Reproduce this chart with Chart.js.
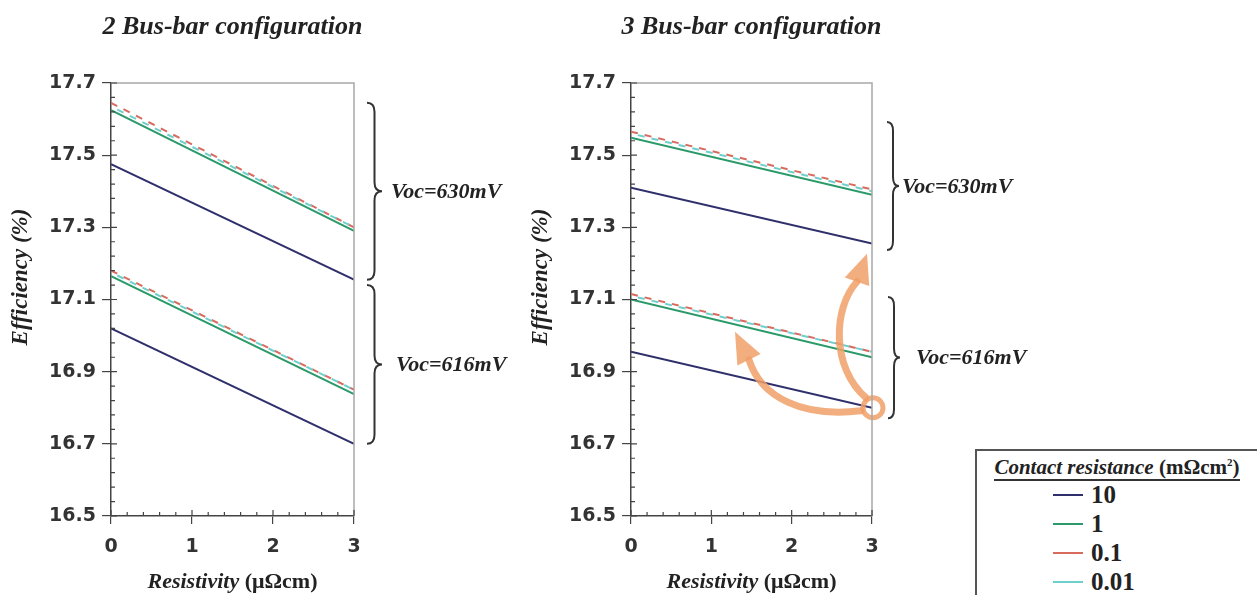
<!DOCTYPE html>
<html>
<head>
<meta charset="utf-8">
<script src="https://cdn.jsdelivr.net/npm/chart.js@4"></script>
<style>
  body { margin: 0; background: #fff; width: 1257px; height: 595px; position: relative; overflow: hidden; font-family: "Liberation Serif", serif; }
  canvas { position: absolute; top: 0; }
  #left { left: 0; }
  #right { left: 520px; }
  #legend { position: absolute; left: 975px; top: 449px; width: 290px; height: 150px; border: 2px solid #555; background: #fff; color: #222; z-index: 2; }
  .lt { text-align: center; font-weight: bold; font-size: 21px; line-height: 22px; width: 280px; white-space: nowrap; }
  .lt span { border-bottom: 2px solid #333; }
  #rows { margin-top: 2px; padding-left: 76px; }
  .row { height: 29px; display: flex; align-items: center; font-weight: bold; font-size: 25px; }
  .sw { width: 30px; height: 2px; margin-right: 8px; }
</style>
</head>
<body>
<canvas id="left" width="520" height="595"></canvas>
<canvas id="right" width="737" height="595"></canvas>
<div id="legend">
  <div class="lt"><span><i>Contact resistance</i> (mΩcm<sup style="font-size:11px">2</sup>)</span></div>
  <div id="rows"></div>
</div>
<script>
// donnees
const resistivity = [0, 3];
const xTicks = [0, 1, 2, 3];
const yTicks = [16.5, 16.7, 16.9, 17.1, 17.3, 17.5, 17.7];
const contactRes = ["10", "1", "0.1", "0.01"];

// 2 bus-bar (ordre : 10, 1, 0.1, 0.01)
const bb2Voc630 = [[17.475, 17.155], [17.625, 17.29], [17.645, 17.30], [17.635, 17.30]];
const bb2Voc616 = [[17.02, 16.70], [17.165, 16.838], [17.18, 16.85], [17.175, 16.85]];
// 3 bus-bar
const bb3Voc630 = [[17.41, 17.255], [17.548, 17.39], [17.565, 17.405], [17.56, 17.40]];
const bb3Voc616 = [[16.955, 16.80], [17.10, 16.94], [17.115, 16.955], [17.11, 16.955]];

const lineColors = ["#2f2f6b", "#2b9a6a", "#d96a5e", "#6dd0cc"];
const lineDash = [[], [], [7, 7], [7, 7]];
const dashOffset = [0, 0, 0, 7];

const serif = '"Liberation Serif", "Times New Roman", serif';
const sans = '"DejaVu Sans", Arial, sans-serif';

function buildDatasets(groups) {
  const ds = [];
  groups.forEach(g => {
    g.forEach((vals, i) => {
      ds.push({
        label: contactRes[i],
        data: resistivity.map((x, k) => ({ x: x, y: vals[k] })),
        borderColor: lineColors[i],
        borderDash: lineDash[i],
        borderDashOffset: dashOffset[i],
        borderWidth: 2,
        pointRadius: 0,
        tension: 0,
        order: 4 - i
      });
    });
  });
  return ds;
}

function drawBrace(ctx, x, y1, y2, w) {
  const m = (y1 + y2) / 2, h = w / 2, r = 9;
  ctx.beginPath();
  ctx.moveTo(x, y1);
  ctx.quadraticCurveTo(x + h, y1, x + h, y1 + r);
  ctx.lineTo(x + h, m - r);
  ctx.quadraticCurveTo(x + h, m, x + w, m);
  ctx.quadraticCurveTo(x + h, m, x + h, m + r);
  ctx.lineTo(x + h, y2 - r);
  ctx.quadraticCurveTo(x + h, y2, x, y2);
  ctx.stroke();
}

function drawArrow(ctx, c, pts, tip) {
  const [s, c1, c2, e] = pts.map(p => [c[0] + p[0], c[1] + p[1]]);
  const t = [c[0] + tip[0], c[1] + tip[1]];
  ctx.beginPath();
  ctx.moveTo(s[0], s[1]);
  ctx.bezierCurveTo(c1[0], c1[1], c2[0], c2[1], e[0], e[1]);
  ctx.stroke();
  // pointe
  const dx = t[0] - e[0], dy = t[1] - e[1];
  const len = Math.hypot(dx, dy);
  const px = -dy / len * 13, py = dx / len * 13;
  ctx.beginPath();
  ctx.moveTo(t[0], t[1]);
  ctx.lineTo(e[0] + px, e[1] + py);
  ctx.lineTo(e[0] - px, e[1] - py);
  ctx.closePath();
  ctx.fill();
}

function decorPlugin(title, braces, arrows) {
  return {
    id: "decor",
    afterDatasetsDraw(chart) {
      if (!arrows) return;
      const ctx = chart.ctx, xs = chart.scales.x, ys = chart.scales.y;
      const c = [xs.getPixelForValue(3) + 1, ys.getPixelForValue(16.8)];
      ctx.save();
      ctx.strokeStyle = "rgba(240,160,105,0.85)";
      ctx.fillStyle = "rgba(240,160,105,0.85)";
      ctx.lineWidth = 5;
      ctx.beginPath();
      ctx.arc(c[0], c[1], 10, 0, Math.PI * 2);
      ctx.stroke();
      ctx.lineWidth = 7;
      ctx.lineCap = "round";
      arrows.forEach(a => drawArrow(ctx, c, a.pts, a.tip));
      ctx.restore();
    },
    afterDraw(chart) {
      const ctx = chart.ctx, a = chart.chartArea, xs = chart.scales.x, ys = chart.scales.y;
      ctx.save();
      // cadre haut et droit
      ctx.strokeStyle = "#a8a8a8";
      ctx.lineWidth = 1.5;
      ctx.beginPath();
      ctx.moveTo(a.left, a.top);
      ctx.lineTo(a.right, a.top);
      ctx.lineTo(a.right, a.bottom);
      ctx.stroke();

      // petites graduations vers l'interieur
      ctx.strokeStyle = "#444";
      ctx.lineWidth = 1.2;
      ctx.beginPath();
      for (let k = 0; k <= 30; k++) {
        const p = ys.getPixelForValue(16.5 + k * 0.04);
        ctx.moveTo(a.left, p);
        ctx.lineTo(a.left + (k % 5 === 0 ? 6 : 4), p);
      }
      for (let k = 0; k <= 15; k++) {
        const p = xs.getPixelForValue(k * 0.2);
        ctx.moveTo(p, a.bottom);
        ctx.lineTo(p, a.bottom - (k % 5 === 0 ? 6 : 4));
      }
      ctx.stroke();

      ctx.fillStyle = "#222";
      ctx.textBaseline = "middle";
      // titre du panneau
      ctx.font = "italic bold 26px " + serif;
      ctx.textAlign = "center";
      ctx.fillText(title, (a.left + a.right) / 2, 27);

      // titre axe y
      ctx.save();
      ctx.translate(21, 277);
      ctx.rotate(-Math.PI / 2);
      ctx.font = "italic bold 23px " + serif;
      ctx.fillText("Efficiency (%)", 0, 0);
      ctx.restore();

      // titre axe x (italique + droit)
      const parts = [["italic bold 22px " + serif, "Resistivity"], ["bold 22px " + serif, " (μΩcm)"]];
      let total = 0;
      parts.forEach(p => { ctx.font = p[0]; total += ctx.measureText(p[1]).width; });
      let x = (a.left + a.right) / 2 - total / 2;
      ctx.textAlign = "left";
      parts.forEach(p => { ctx.font = p[0]; ctx.fillText(p[1], x, 582); x += ctx.measureText(p[1]).width; });

      // accolades Voc
      ctx.strokeStyle = "#333";
      ctx.lineWidth = 2;
      braces.forEach(b => {
        const y1 = ys.getPixelForValue(b.from), y2 = ys.getPixelForValue(b.to);
        drawBrace(ctx, a.right + b.bx, y1, y2, b.w);
        ctx.font = "italic bold 22px " + serif;
        ctx.fillText(b.label, a.right + b.tx, (y1 + y2) / 2 + 1);
      });
      ctx.restore();
    }
  };
}

function makeChart(id, title, groups, padRight, braces, arrows) {
  return new Chart(document.getElementById(id), {
    type: "line",
    data: { datasets: buildDatasets(groups) },
    options: {
      responsive: false,
      animation: false,
      layout: { padding: { top: 83, right: padRight, bottom: 0, left: 0 } },
      plugins: { legend: { display: false }, tooltip: { enabled: false } },
      scales: {
        x: {
          type: "linear",
          min: 0,
          max: 3,
          afterBuildTicks: s => { s.ticks = xTicks.map(v => ({ value: v })); },
          afterFit: s => { s.height = 79; },
          ticks: { color: "#333", padding: 12, font: { family: sans, size: 19, weight: "bold" } },
          grid: { drawOnChartArea: false, drawTicks: true, tickLength: 8, color: "#444", lineWidth: 1.2 },
          border: { color: "#444", width: 1.5 }
        },
        y: {
          type: "linear",
          min: 16.5,
          max: 17.7,
          afterBuildTicks: s => { s.ticks = yTicks.map(v => ({ value: v })); },
          afterFit: s => { s.width = 111; },
          ticks: { color: "#333", padding: 6, font: { family: sans, size: 19, weight: "bold" }, callback: v => v.toFixed(1) },
          grid: { drawOnChartArea: false, drawTicks: true, tickLength: 9, color: "#444", lineWidth: 1.2 },
          border: { color: "#444", width: 1.5 }
        }
      }
    },
    plugins: [decorPlugin(title, braces, arrows)]
  });
}

makeChart("left", "2 Bus-bar configuration", [bb2Voc630, bb2Voc616], 166, [
  { from: 17.645, to: 17.155, label: "Voc=630mV", bx: 13, w: 15, tx: 37 },
  { from: 17.14, to: 16.70, label: "Voc=616mV", bx: 13, w: 15, tx: 42 }
], null);

makeChart("right", "3 Bus-bar configuration", [bb3Voc630, bb3Voc616], 385, [
  { from: 17.592, to: 17.237, label: "Voc=630mV", bx: 15, w: 12, tx: 30 },
  { from: 17.107, to: 16.771, label: "Voc=616mV", bx: 16, w: 12, tx: 44 }
], [
  { pts: [[-12, 3], [-70, 10], [-112, -10], [-124, -48]], tip: [-138, -76] },
  { pts: [[-7, -10], [-42, -40], [-40, -100], [-16, -126]], tip: [-6, -154] }
]);

// legende
const rows = document.getElementById("rows");
contactRes.forEach((name, i) => {
  const r = document.createElement("div");
  r.className = "row";
  r.innerHTML = `<span class="sw" style="background:${lineColors[i]}"></span>${name}`;
  rows.appendChild(r);
});
</script>
</body>
</html>
